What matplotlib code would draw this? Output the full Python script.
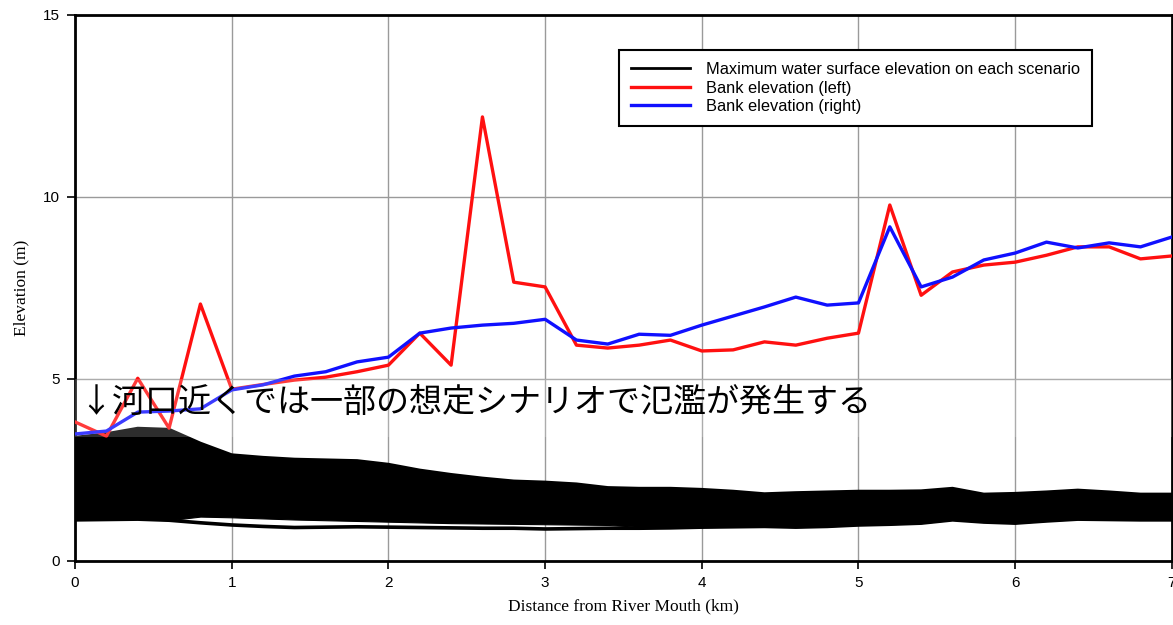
import numpy as np
import matplotlib.pyplot as plt
from matplotlib.patches import Rectangle

# distance along the river (km), one section every 200 m
distance = np.round(np.arange(0, 7.01, 0.2), 1)

# bank elevation (m)
bank_left = [3.82, 3.43, 5.02, 3.65, 7.06, 4.72, 4.85, 4.97, 5.05, 5.20,
             5.38, 6.26, 5.38, 12.20, 7.66, 7.53, 5.93, 5.85, 5.93, 6.07,
             5.77, 5.80, 6.02, 5.93, 6.12, 6.26, 9.78, 7.30, 7.94, 8.13,
             8.21, 8.40, 8.63, 8.63, 8.30, 8.38]
bank_right = [3.49, 3.57, 4.09, 4.12, 4.18, 4.70, 4.84, 5.08, 5.20, 5.47,
              5.60, 6.26, 6.40, 6.48, 6.53, 6.64, 6.07, 5.96, 6.23, 6.20,
              6.48, 6.73, 6.98, 7.25, 7.03, 7.09, 9.18, 7.53, 7.80, 8.27,
              8.46, 8.76, 8.60, 8.74, 8.63, 8.90]

# envelope of the maximum water surface elevation over all scenarios (m)
wse_high = [3.40, 3.50, 3.65, 3.62, 3.24, 2.92, 2.85, 2.80, 2.78, 2.76,
            2.66, 2.50, 2.38, 2.28, 2.20, 2.17, 2.12, 2.02, 2.00, 2.00,
            1.97, 1.92, 1.85, 1.88, 1.90, 1.92, 1.92, 1.93, 2.00, 1.84,
            1.86, 1.90, 1.95, 1.90, 1.84, 1.84]
wse_low = [1.13, 1.14, 1.15, 1.12, 1.22, 1.20, 1.17, 1.14, 1.12, 1.10,
           1.08, 1.06, 1.04, 1.03, 1.02, 1.01, 1.00, 0.99, 0.94, 0.92,
           0.93, 0.94, 0.95, 0.93, 0.95, 0.99, 1.01, 1.04, 1.13, 1.07,
           1.04, 1.10, 1.15, 1.14, 1.13, 1.13]
# lowest scenario, which drops away from the rest between 0.8 and 3.6 km
wse_min = [1.13, 1.14, 1.15, 1.12, 1.05, 0.99, 0.95, 0.92, 0.93, 0.94,
           0.93, 0.92, 0.91, 0.90, 0.90, 0.88, 0.89, 0.90, 0.90, 0.91,
           0.93, 0.94, 0.95, 0.93, 0.95, 0.99, 1.01, 1.04, 1.13, 1.07,
           1.04, 1.10, 1.15, 1.14, 1.13, 1.13]

note = '↓河口近くでは一部の想定シナリオで氾濫が発生する'

plt.rcParams['font.family'] = ['Liberation Sans', 'DejaVu Sans']

fig = plt.figure(figsize=(11.73, 6.25), dpi=100)
ax = fig.add_axes([0.064, 0.1024, 0.935, 0.8736])

ax.fill_between(distance, wse_low, wse_high, color='black', lw=0.8, zorder=2)
ax.plot(distance, wse_high, color='black', lw=2.0, zorder=2,
        label='Maximum water surface elevation on each scenario')
ax.plot(distance, wse_min, color='black', lw=2.6, zorder=2)
ax.plot(distance, bank_left, color='#ff1010', lw=2.4, zorder=3,
        label='Bank elevation (left)')
ax.plot(distance, bank_right, color='#1010ff', lw=2.4, zorder=4,
        label='Bank elevation (right)')

ax.set_xlim(0, 7)
ax.set_ylim(0, 15)
ax.set_xticks(range(0, 8))
ax.set_yticks([0, 5, 10, 15])
ax.grid(True, color='#9a9a9a', lw=1.0, zorder=0)
ax.set_axisbelow(True)
for s in ax.spines.values():
    s.set_linewidth(2.0)
ax.tick_params(direction='out', length=6, width=1.2, labelsize=11, pad=5)

ax.set_xlabel('Distance from River Mouth (km)', family='Liberation Serif',
              fontsize=12.5, labelpad=6)
ax.set_ylabel('Elevation (m)', family='Liberation Serif', fontsize=12.5,
              labelpad=10)

leg = ax.legend(loc='upper right', bbox_to_anchor=(0.927, 0.935), fontsize=11.8,
                frameon=True, fancybox=False, edgecolor='black',
                handlelength=3.6, handletextpad=1.0, labelspacing=0.22,
                borderpad=0.7, borderaxespad=0)
leg.get_frame().set_linewidth(1.5)
leg.get_frame().set_alpha(1)

# light haze behind the note
ax.add_patch(Rectangle((0, 3.4), 7, 1.6, transform=ax.transData,
                       facecolor='white', alpha=0.18, lw=0, zorder=5))
ax.text(0.025, 4.35, note, fontsize=23.8, va='center', ha='left',
        family=['Noto Sans CJK JP', 'DejaVu Sans'], zorder=6)

fig.savefig('out.png', dpi=100)
